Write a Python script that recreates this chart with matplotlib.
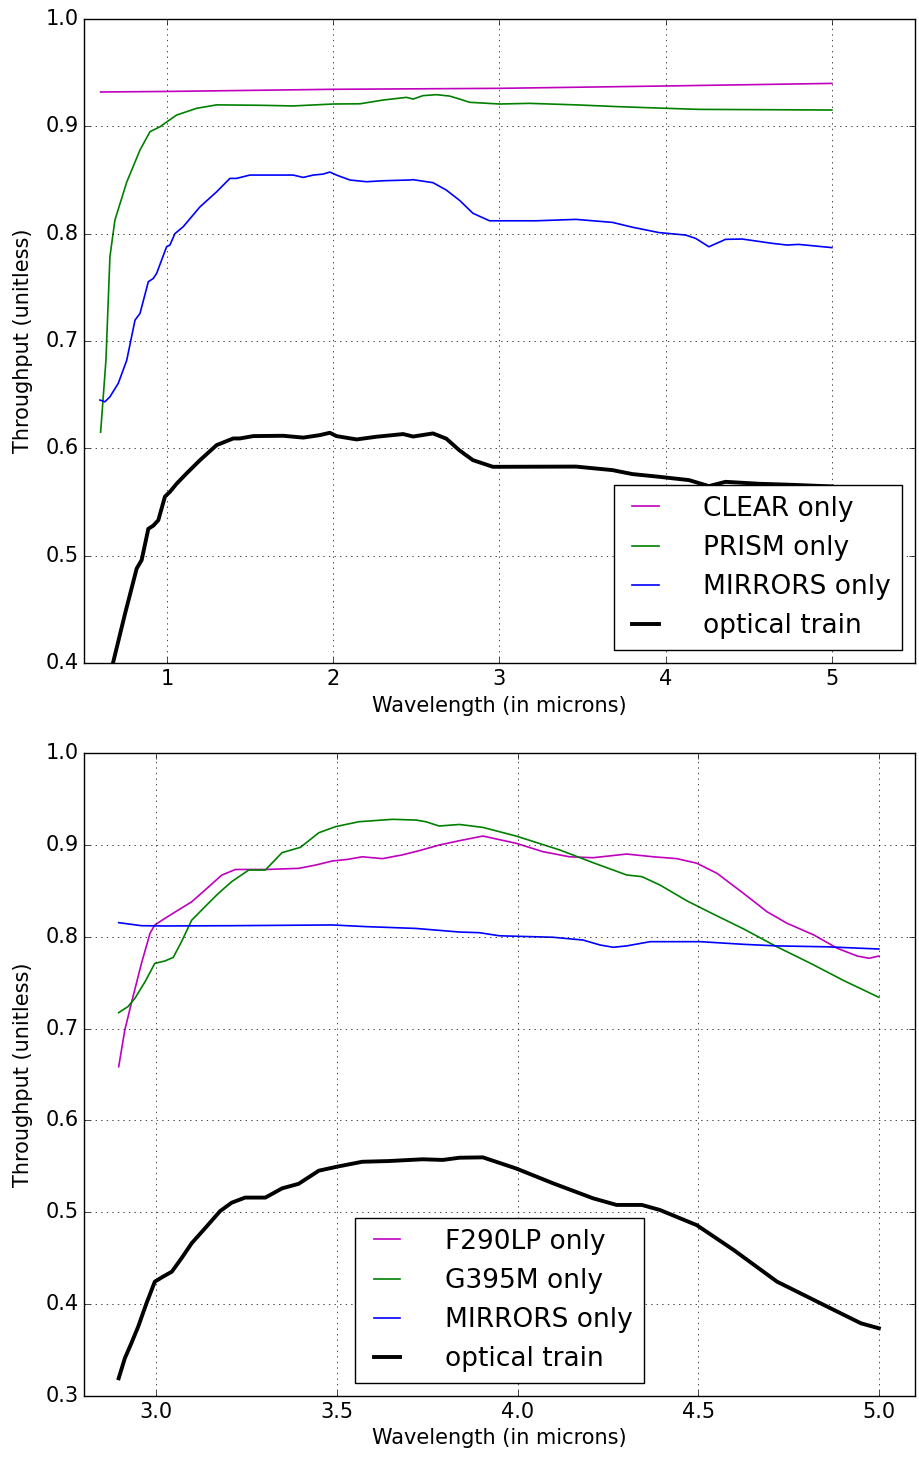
import matplotlib
matplotlib.use('Agg')

import matplotlib.pyplot as plt

# ---- top panel: PRISM/CLEAR ----
clear_wl = [0.6, 1.0, 2.0, 3.0, 4.0, 5.0]
clear_tp = [0.932, 0.9325, 0.9345, 0.9354, 0.9376, 0.940]

prism_wl = [0.6, 0.632, 0.656, 0.686, 0.757, 0.837, 0.897, 0.957, 0.997, 1.057, 1.178, 1.298,
            1.558, 1.759, 1.999, 2.16, 2.30, 2.44, 2.48, 2.54, 2.62, 2.70, 2.76, 2.82,
            3.0, 3.18, 3.46, 3.72, 4.0, 4.20, 5.0]
prism_tp = [0.615, 0.682, 0.7785, 0.8127, 0.848, 0.878, 0.895, 0.8996, 0.904, 0.9105, 0.9168, 0.920,
            0.9196, 0.919, 0.9208, 0.921, 0.9245, 0.927, 0.9254, 0.9286, 0.9295, 0.9282, 0.9254, 0.9224,
            0.9208, 0.9214, 0.920, 0.9183, 0.9168, 0.9158, 0.9152]

mirr1_wl = [0.596, 0.626, 0.656, 0.706, 0.757, 0.807, 0.837, 0.887, 0.917, 0.937, 0.997, 1.017,
            1.047, 1.097, 1.198, 1.298, 1.378, 1.418, 1.498, 1.759, 1.819, 1.879, 1.939, 1.979,
            2.019, 2.10, 2.20, 2.30, 2.46, 2.48, 2.60, 2.68, 2.76, 2.84, 2.94, 3.22, 3.46, 3.68,
            3.80, 3.96, 4.12, 4.18, 4.26, 4.36, 4.46, 4.64, 4.73, 4.80, 5.0]
mirr1_tp = [0.645, 0.6434, 0.648, 0.6605, 0.682, 0.7195, 0.7257, 0.7552, 0.7583, 0.763, 0.7878, 0.7894,
            0.800, 0.8065, 0.825, 0.839, 0.8515, 0.8515, 0.8546, 0.8546, 0.8524, 0.8546, 0.8555, 0.8574,
            0.8546, 0.850, 0.8484, 0.8493, 0.850, 0.8503, 0.8475, 0.8406, 0.831, 0.819, 0.812, 0.812, 0.8133, 0.8105,
            0.806, 0.801, 0.7987, 0.7956, 0.7878, 0.7947, 0.795, 0.791, 0.7894, 0.790, 0.787]

train1_wl = [0.6, 0.676, 0.747, 0.817, 0.847, 0.887, 0.917, 0.947, 0.987, 1.017, 1.057, 1.117,
             1.198, 1.298, 1.398, 1.438, 1.518, 1.698, 1.819, 1.919, 1.979, 2.019, 2.14, 2.26,
             2.42, 2.48, 2.60, 2.68, 2.76, 2.84, 2.96, 3.0, 3.46, 3.68, 3.80, 3.96, 4.14,
             4.26, 4.36, 4.56, 4.76, 5.0]
train1_tp = [0.353, 0.401, 0.446, 0.488, 0.496, 0.525, 0.528, 0.533, 0.555, 0.5595, 0.567, 0.5766,
             0.589, 0.603, 0.6092, 0.6092, 0.6114, 0.6117, 0.610, 0.6123, 0.6145, 0.6114, 0.6083, 0.6108,
             0.6133, 0.611, 0.6139, 0.609, 0.598, 0.589, 0.5828, 0.5828, 0.583, 0.5797, 0.576, 0.5735, 0.5704,
             0.5648, 0.5688, 0.567, 0.566, 0.5645]

# ---- bottom panel: F290LP/G395M ----
f290_wl = [2.896, 2.913, 2.931, 2.959, 2.983, 2.996, 3.024, 3.061, 3.098, 3.135, 3.181, 3.219,
           3.302, 3.394, 3.441, 3.487, 3.53, 3.57, 3.626, 3.68, 3.728, 3.783, 3.839, 3.904,
           3.996, 4.07, 4.144, 4.209, 4.302, 4.376, 4.441, 4.496, 4.552, 4.626, 4.69, 4.746,
           4.82, 4.885, 4.94, 4.973, 5.0]
f290_tp = [0.6585, 0.6985, 0.7275, 0.771, 0.804, 0.8128, 0.820, 0.829, 0.838, 0.8508, 0.867, 0.8732,
           0.8732, 0.8744, 0.878, 0.8824, 0.8842, 0.887, 0.885, 0.889, 0.8937, 0.8998, 0.9045, 0.9096,
           0.9017, 0.8926, 0.887, 0.886, 0.890, 0.887, 0.885, 0.880, 0.869, 0.847, 0.8273, 0.8146,
           0.8019, 0.7874, 0.779, 0.7765, 0.779]

g395_wl = [2.896, 2.922, 2.941, 2.969, 2.996, 3.024, 3.047, 3.07, 3.098, 3.135, 3.172, 3.209,
           3.256, 3.302, 3.348, 3.399, 3.45, 3.496, 3.561, 3.654, 3.719, 3.746, 3.783, 3.839,
           3.904, 3.996, 4.117, 4.209, 4.302, 4.344, 4.394, 4.469, 4.543, 4.626, 4.718, 4.811,
           4.904, 5.0]
g395_tp = [0.7173, 0.724, 0.733, 0.751, 0.771, 0.7736, 0.7775, 0.7946, 0.818, 0.8327, 0.8472, 0.860,
           0.8726, 0.8726, 0.8915, 0.8973, 0.9132, 0.9198, 0.9252, 0.9278, 0.927, 0.9252, 0.9205, 0.9222,
           0.919, 0.9096, 0.8944, 0.8806, 0.8672, 0.8654, 0.8563, 0.839, 0.8244, 0.8084, 0.789, 0.771,
           0.752, 0.734]

mirr2_wl = [2.896, 2.959, 3.024, 3.209, 3.487, 3.58, 3.719, 3.839, 3.894, 3.95, 4.098, 4.181,
            4.228, 4.265, 4.302, 4.367, 4.506, 4.626, 4.718, 4.857, 5.0]
mirr2_tp = [0.8153, 0.812, 0.8117, 0.812, 0.8128, 0.811, 0.809, 0.8051, 0.8044, 0.801, 0.7994, 0.7964,
            0.791, 0.7885, 0.790, 0.7946, 0.7946, 0.7917, 0.790, 0.789, 0.7866]

train2_wl = [2.896, 2.913, 2.931, 2.95, 2.973, 2.996, 3.019, 3.043, 3.07, 3.098, 3.135, 3.177,
             3.209, 3.246, 3.302, 3.348, 3.394, 3.45, 3.501, 3.57, 3.644, 3.737, 3.793, 3.839,
             3.904, 3.996, 4.098, 4.209, 4.274, 4.344, 4.394, 4.496, 4.598, 4.718, 4.857, 4.95, 5.0]
train2_tp = [0.3193, 0.341, 0.3574, 0.3755, 0.401, 0.4245, 0.430, 0.4353, 0.450, 0.4663, 0.4826, 0.5014,
             0.5105, 0.516, 0.516, 0.526, 0.531, 0.5453, 0.5497, 0.555, 0.5558, 0.5577, 0.557, 0.5594,
             0.5598, 0.5477, 0.5316, 0.5152, 0.508, 0.508, 0.5025, 0.486, 0.459, 0.4245, 0.3973, 0.3792, 0.3737]

plt.style.use('classic')
plt.rcParams['figure.facecolor'] = 'white'
plt.rcParams['savefig.facecolor'] = 'white'
plt.rcParams['font.family'] = ['DejaVu Sans']

W, H = 920, 1461
fig = plt.figure(figsize=(W / 100.0, H / 100.0), dpi=100)

ax1 = fig.add_axes([84.0 / W, 1 - 663.0 / H, 831.0 / W, 644.0 / H])
ax2 = fig.add_axes([84.0 / W, 1 - 1396.0 / H, 831.0 / W, 643.0 / H])

thin = 1.2
thick = 2.8

ax1.plot(clear_wl, clear_tp, color='m', lw=thin, label='CLEAR only')
ax1.plot(prism_wl, prism_tp, color='g', lw=thin, label='PRISM only')
ax1.plot(mirr1_wl, mirr1_tp, color='b', lw=thin, label='MIRRORS only')
ax1.plot(train1_wl, train1_tp, color='k', lw=thick, label='optical train')
ax1.set_xlim(0.5, 5.5)
ax1.set_ylim(0.4, 1.0)
ax1.set_xticks([1, 2, 3, 4, 5])

ax2.plot(f290_wl, f290_tp, color='m', lw=thin, label='F290LP only')
ax2.plot(g395_wl, g395_tp, color='g', lw=thin, label='G395M only')
ax2.plot(mirr2_wl, mirr2_tp, color='b', lw=thin, label='MIRRORS only')
ax2.plot(train2_wl, train2_tp, color='k', lw=thick, label='optical train')
ax2.set_xlim(2.8, 5.1)
ax2.set_ylim(0.3, 1.0)
ax2.set_xticks([3.0, 3.5, 4.0, 4.5, 5.0])

for ax, loc in [(ax1, 'lower right'), (ax2, 'lower center')]:
	ax.grid(True)
	ax.tick_params(labelsize=15)
	ax.set_xlabel('Wavelength (in microns)', fontsize=15)
	ax.set_ylabel('Throughput (unitless)', fontsize=15, labelpad=9)
	ax.legend(loc=loc, prop={'size': 19}, handlelength=1.6, handletextpad=1.4, labelspacing=0.5)

fig.savefig('out.png', dpi=100)
